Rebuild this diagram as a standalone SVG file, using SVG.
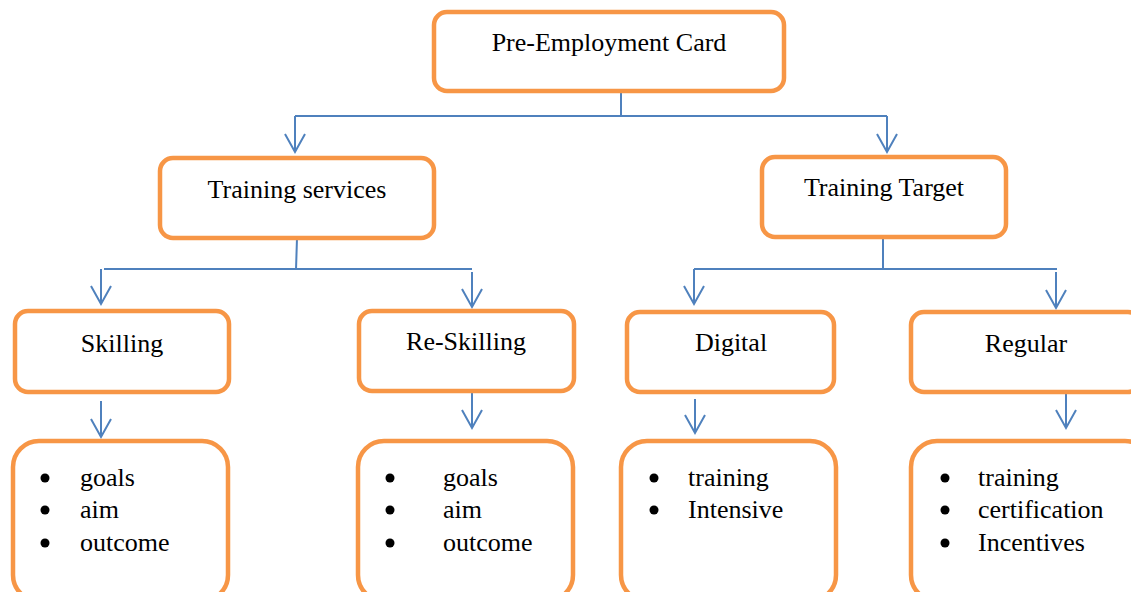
<svg xmlns="http://www.w3.org/2000/svg" width="1131" height="592" viewBox="0 0 1131 592">
<defs>
<marker id="arr" markerWidth="24" markerHeight="24" viewBox="-20 -12 24 24" refX="0" refY="0" markerUnits="userSpaceOnUse" orient="auto">
<path d="M-18 -10L0 0L-18 10" fill="none" stroke="#4F81BD" stroke-width="2"/>
</marker>
<style>
.box{fill:#fff;stroke:#F79646;stroke-width:4.5}
.t{font-family:"Liberation Serif","Times New Roman",serif;font-size:26px;fill:#000}
.c{text-anchor:middle}
.ln{fill:none;stroke:#4F81BD;stroke-width:2}
.a{marker-end:url(#arr)}
.b{fill:#000}
</style>
</defs>
<g id="connectors" class="ln">
<path d="M621 91V116M295 116H887"/>
<path class="a" d="M295 116V152"/>
<path class="a" d="M887 116V152"/>
<path d="M297 238L296 270M104 269H472"/>
<path class="a" d="M101 269V304"/>
<path class="a" d="M472 272V307"/>
<path d="M883 237V269M694 269H1057"/>
<path class="a" d="M694 269V304"/>
<path class="a" d="M1056 272V308"/>
<path class="a" d="M101 401V437"/>
<path class="a" d="M472 392V428"/>
<path class="a" d="M695 399V433"/>
<path class="a" d="M1066 392V428"/>
</g>
<g id="n-root"><rect class="box" x="434" y="12" width="350" height="79" rx="13"/><text class="t c" x="609" y="51">Pre-Employment Card</text></g>
<g id="n-services"><rect class="box" x="160" y="158" width="274" height="80" rx="13"/><text class="t c" x="297" y="198">Training services</text></g>
<g id="n-target"><rect class="box" x="762" y="157" width="244" height="80" rx="13"/><text class="t c" x="884" y="196">Training Target</text></g>
<g id="n-skilling"><rect class="box" x="15" y="311" width="214" height="81" rx="13"/><text class="t c" x="122" y="352">Skilling</text></g>
<g id="n-reskilling"><rect class="box" x="359" y="311" width="215" height="80" rx="13"/><text class="t c" x="466" y="350">Re-Skilling</text></g>
<g id="n-digital"><rect class="box" x="627" y="312" width="207" height="80" rx="13"/><text class="t c" x="731" y="351">Digital</text></g>
<g id="n-regular"><rect class="box" x="911" y="312" width="230" height="80" rx="13"/><text class="t c" x="1026" y="352">Regular</text></g>
<g id="n-skilling-list"><rect class="box" x="13" y="441" width="215" height="160" rx="26"/>
<circle class="b" cx="45" cy="478" r="4.5"/><circle class="b" cx="45" cy="510" r="4.5"/><circle class="b" cx="45" cy="543" r="4.5"/>
<text class="t" x="80" y="486">goals</text><text class="t" x="80" y="518">aim</text><text class="t" x="80" y="551">outcome</text></g>
<g id="n-reskilling-list"><rect class="box" x="358" y="441" width="215" height="160" rx="26"/>
<circle class="b" cx="390" cy="478" r="4.5"/><circle class="b" cx="390" cy="510" r="4.5"/><circle class="b" cx="390" cy="543" r="4.5"/>
<text class="t" x="443" y="486">goals</text><text class="t" x="443" y="518">aim</text><text class="t" x="443" y="551">outcome</text></g>
<g id="n-digital-list"><rect class="box" x="621" y="441" width="215" height="160" rx="26"/>
<circle class="b" cx="654" cy="478" r="4.5"/><circle class="b" cx="654" cy="510" r="4.5"/>
<text class="t" x="688" y="486">training</text><text class="t" x="688" y="518">Intensive</text></g>
<g id="n-regular-list"><rect class="box" x="911" y="441" width="240" height="160" rx="26"/>
<circle class="b" cx="945" cy="478" r="4.5"/><circle class="b" cx="945" cy="510" r="4.5"/><circle class="b" cx="945" cy="543" r="4.5"/>
<text class="t" x="978" y="486">training</text><text class="t" x="978" y="518">certification</text><text class="t" x="978" y="551">Incentives</text></g>
</svg>
